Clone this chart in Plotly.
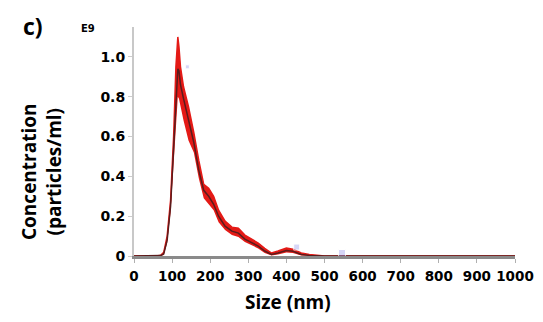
import plotly.graph_objects as go

# Particle size distribution (NTA), concentration in units of 1e9 particles/ml
size_nm = [0, 60, 70, 78, 87, 96, 104, 110, 115, 118, 122, 130, 143, 157, 170, 183,
           196, 209, 222, 239, 257, 274, 291, 309, 326, 343, 361, 378, 400, 417,
           439, 460, 480, 500, 1000]
conc_mean = [0, 0, 0.002, 0.01, 0.08, 0.25, 0.52, 0.77, 0.94, 0.93, 0.86, 0.79,
             0.69, 0.57, 0.43, 0.33, 0.30, 0.26, 0.20, 0.15, 0.125, 0.115, 0.085,
             0.067, 0.05, 0.025, 0.008, 0.015, 0.028, 0.024, 0.008, 0.003, 0.001, 0, 0]
conc_upper = [0, 0, 0.004, 0.018, 0.10, 0.28, 0.60, 0.95, 1.10, 1.05, 0.95, 0.85,
              0.75, 0.62, 0.48, 0.36, 0.34, 0.30, 0.23, 0.175, 0.145, 0.14, 0.105,
              0.085, 0.065, 0.038, 0.015, 0.025, 0.04, 0.034, 0.015, 0.007, 0.002, 0, 0]
conc_lower = [0, 0, 0.001, 0.005, 0.065, 0.22, 0.48, 0.70, 0.80, 0.79, 0.75, 0.68,
              0.58, 0.52, 0.39, 0.29, 0.26, 0.23, 0.17, 0.13, 0.105, 0.095, 0.07,
              0.052, 0.038, 0.015, 0.003, 0.008, 0.018, 0.015, 0.003, 0.001, 0, 0, 0]

# faint peak-label marks left by the instrument software
label_x = [140, 427, 546]
label_y = [0.95, 0.045, 0.015]

x_ticks = [0, 100, 200, 300, 400, 500, 600, 700, 800, 900, 1000]
y_ticks = [0, 0.2, 0.4, 0.6, 0.8, 1.0]
y_tick_text = ["0", "0.2", "0.4", "0.6", "0.8", "1.0"]

W, H = 543, 322
L, R, T, B = 134, 28, 27, 66
PW, PH = W - L - R, H - T - B
TITLE_FONT = "Open Sans"
TICK_FONT = "DejaVu Sans"


def px(xp):
    return (xp - L) / PW


def py(yp):
    return (H - B - yp) / PH


fig = go.Figure()
fig.add_trace(go.Scatter(x=size_nm, y=conc_lower, mode="lines",
                         line=dict(color="rgba(0,0,0,0)", width=0),
                         hoverinfo="skip", showlegend=False))
fig.add_trace(go.Scatter(x=size_nm, y=conc_upper, mode="lines", fill="tonexty",
                         fillcolor="#e41a16", line=dict(color="#e41a16", width=1.5),
                         hoverinfo="skip", showlegend=False))
fig.add_trace(go.Scatter(x=size_nm, y=conc_mean, mode="lines",
                         line=dict(color="#5a1c1c", width=1.5), showlegend=False))
fig.add_trace(go.Scatter(x=label_x, y=label_y, mode="markers",
                         marker=dict(symbol="square", size=[4, 6, 7],
                                     color="rgba(150,150,235,0.55)"),
                         showlegend=False))

fig.update_layout(
    width=W, height=H,
    margin=dict(l=L, r=R, t=T, b=B),
    paper_bgcolor="white", plot_bgcolor="white",
    font=dict(family=TITLE_FONT, color="black"),
    xaxis=dict(range=[0, 1000], tickvals=x_ticks, showgrid=False, zeroline=False,
               showline=True, linecolor="#8a8a8a", linewidth=2.5,
               ticks="outside", ticklen=4, tickcolor="#b0b0b0",
               ticklabelstandoff=2, automargin=False,
               tickfont=dict(family=TICK_FONT, size=13.5, color="black", weight="bold")),
    yaxis=dict(range=[0, 1.15], tickvals=y_ticks, ticktext=y_tick_text,
               showgrid=False, zeroline=False, automargin=False,
               showline=True, linecolor="#c8c8c8", linewidth=2,
               ticks="outside", ticklen=4, tickcolor="#cccccc",
               tickfont=dict(family=TICK_FONT, size=14, color="black", weight="bold")),
    annotations=[
        dict(text="<b>c)</b>", x=px(21), y=py(26), xref="paper", yref="paper",
             xanchor="left", yanchor="middle", showarrow=False,
             font=dict(family=TITLE_FONT, size=23, color="black")),
        dict(text="<b>E9</b>", x=px(79), y=py(28), xref="paper", yref="paper",
             xanchor="left", yanchor="middle", showarrow=False,
             font=dict(family=TICK_FONT, size=10, color="black")),
        dict(text="<b>Size (nm)</b>", x=px(288), y=py(302), xref="paper", yref="paper",
             xanchor="center", yanchor="middle", showarrow=False,
             font=dict(family=TITLE_FONT, size=19, color="black")),
        dict(text="<b>Concentration<br>(particles/ml)</b>", x=px(41), y=py(172),
             xref="paper", yref="paper", xanchor="center", yanchor="middle",
             textangle=-90, showarrow=False,
             font=dict(family=TITLE_FONT, size=19, color="black")),
    ],
)

fig.write_html("out.html", config={"displayModeBar": False},
               post_script="document.body.style.margin='0';")
